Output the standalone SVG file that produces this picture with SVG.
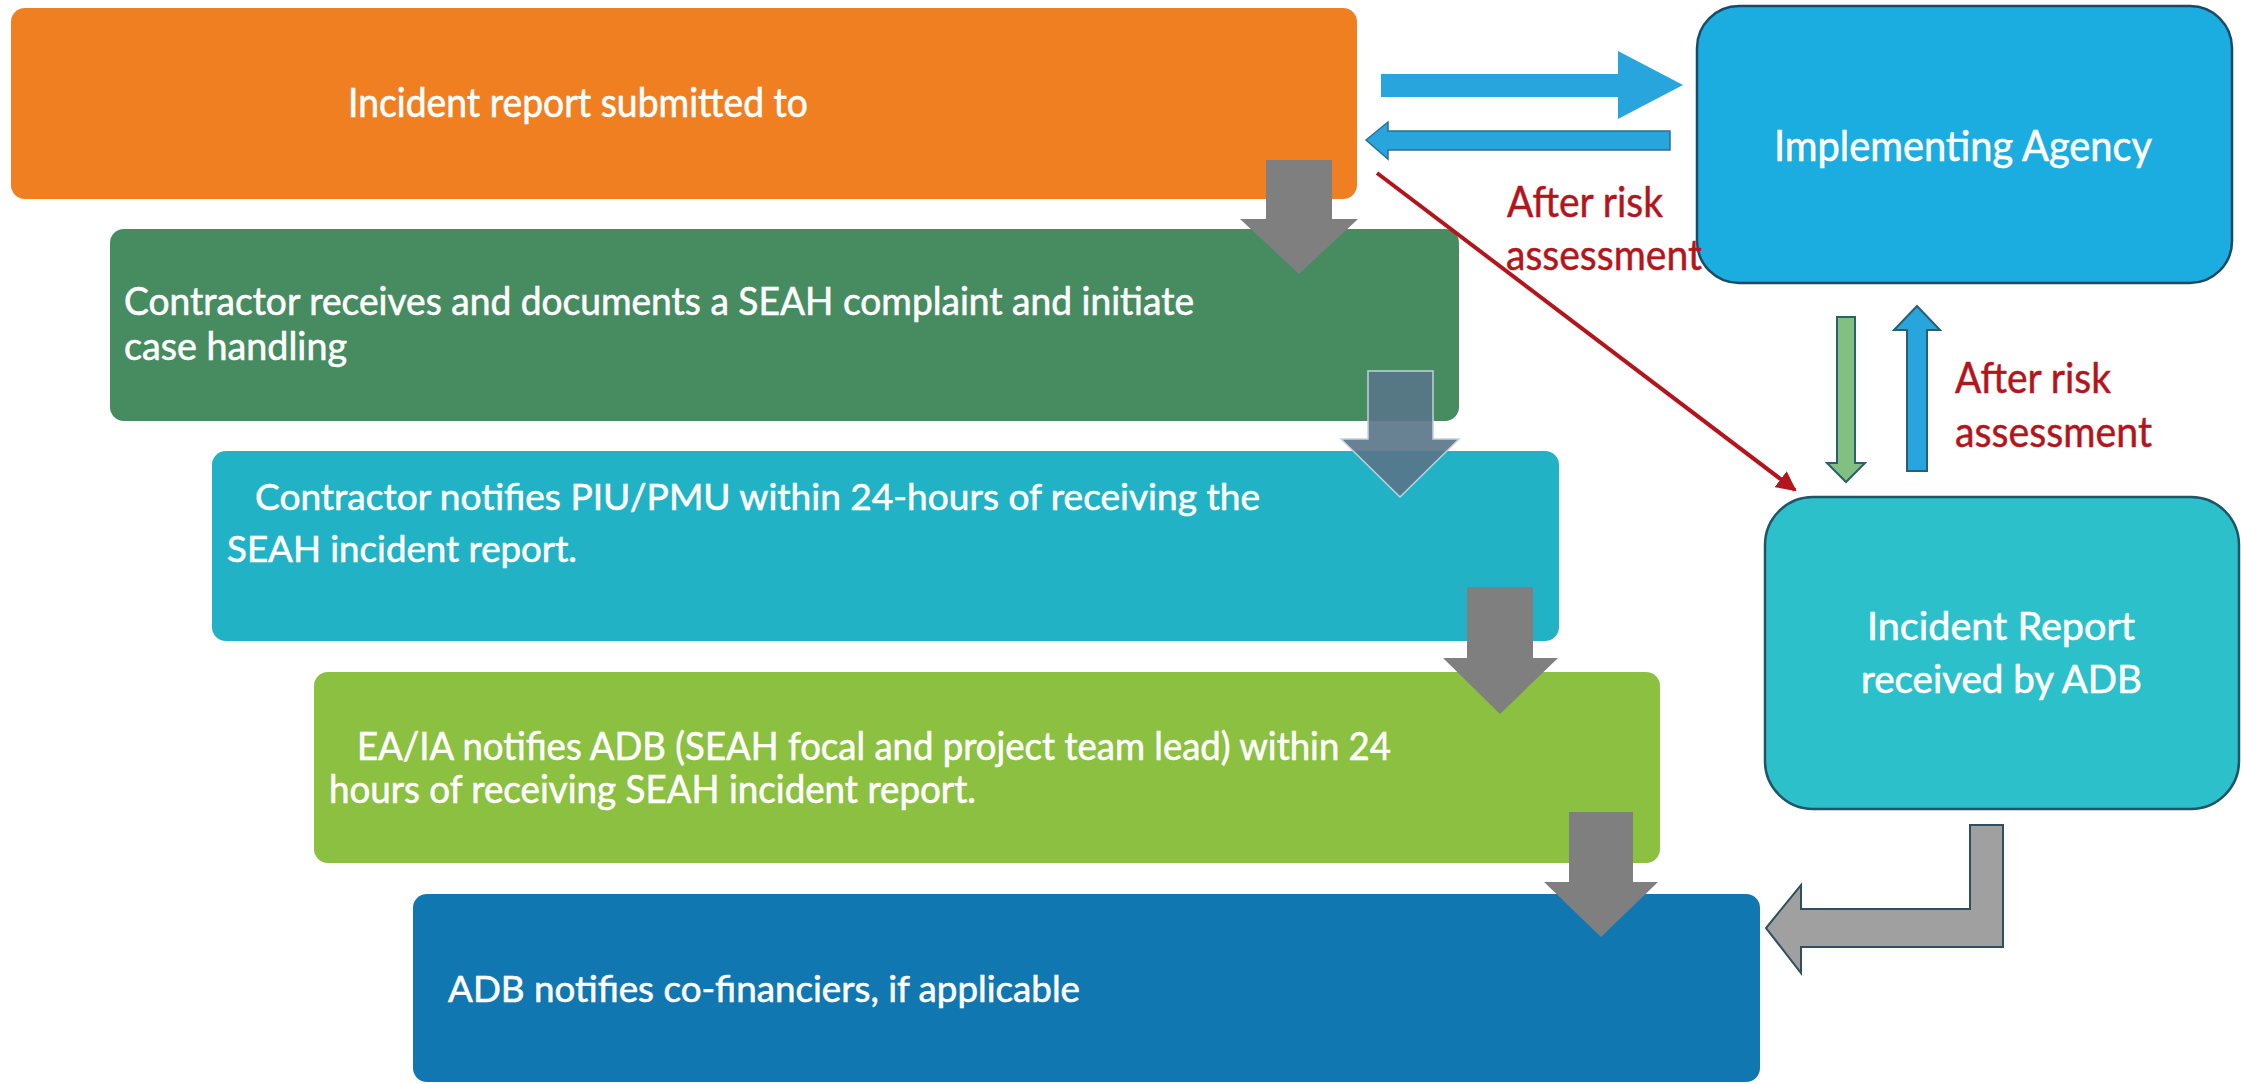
<svg xmlns="http://www.w3.org/2000/svg" width="2241" height="1084" viewBox="0 0 2241 1084">
  <style>
    .step { stroke: none; }
    .side { stroke-width: 2.5; }
    .lbl { font-family: Lato, "Open Sans", "Liberation Sans", sans-serif; fill: #ffffff; stroke: #ffffff; stroke-width: 0.6; }
    .note { font-family: Lato, "Open Sans", "Liberation Sans", sans-serif; fill: #b3151c; stroke: #b3151c; stroke-width: 0.5; }
    .down { fill: #7f7f7f; }
    .blue { fill: #29a5de; }
  </style>
  <defs>
    <marker id="redHead" viewBox="0 0 10 10" refX="9" refY="5" markerWidth="5" markerHeight="5" orient="auto" markerUnits="strokeWidth">
      <path d="M0,0 L10,5 L0,10 Z" fill="#b3151c"/>
    </marker>
  </defs>

  <rect width="2241" height="1084" fill="#ffffff"/>

  <!-- process steps -->
  <g id="step-submitted">
    <rect class="step" x="11" y="8" width="1346" height="191" rx="14" fill="#f07f22"/>
    <text class="lbl" x="348" y="117" font-size="40" textLength="460" lengthAdjust="spacingAndGlyphs">Incident report submitted to</text>
  </g>
  <g id="step-contractor-receives">
    <rect class="step" x="110" y="229" width="1349" height="192" rx="14" fill="#468c60"/>
    <text class="lbl" x="124" y="315" font-size="38" textLength="1070" lengthAdjust="spacingAndGlyphs">Contractor receives and documents a SEAH complaint and initiate</text>
    <text class="lbl" x="124" y="360" font-size="38" textLength="223" lengthAdjust="spacingAndGlyphs">case handling</text>
  </g>
  <g id="step-contractor-notifies">
    <rect class="step" x="212" y="451" width="1347" height="190" rx="14" fill="#22b2c6"/>
    <text class="lbl" x="255" y="510" font-size="37" textLength="1005" lengthAdjust="spacingAndGlyphs">Contractor notifies PIU/PMU within 24-hours of receiving  the</text>
    <text class="lbl" x="227" y="562" font-size="37" textLength="350" lengthAdjust="spacingAndGlyphs">SEAH incident report.</text>
  </g>
  <g id="step-eaia-notifies">
    <rect class="step" x="314" y="672" width="1346" height="191" rx="14" fill="#8bc040"/>
    <text class="lbl" x="357" y="760" font-size="38" textLength="1034" lengthAdjust="spacingAndGlyphs">EA/IA notifies ADB (SEAH focal and project team lead) within 24</text>
    <text class="lbl" x="329" y="803" font-size="38" textLength="647" lengthAdjust="spacingAndGlyphs">hours of receiving SEAH incident report.</text>
  </g>
  <g id="step-adb-notifies">
    <rect class="step" x="413" y="894" width="1347" height="188" rx="14" fill="#1177b1"/>
    <text class="lbl" x="448" y="1002" font-size="37" textLength="632" lengthAdjust="spacingAndGlyphs">ADB notifies co-financiers, if applicable</text>
  </g>

  <!-- side boxes -->
  <g id="implementing-agency">
    <rect class="side" x="1697" y="6" width="535" height="277" rx="42" fill="#1badE0" stroke="#1b4a66"/>
    <text class="lbl" x="1774" y="161" font-size="42" textLength="378" lengthAdjust="spacingAndGlyphs">Implementing Agency</text>
  </g>
  <g id="incident-report-adb">
    <rect class="side" x="1765" y="497" width="474" height="312" rx="48" fill="#2cc1ca" stroke="#1f5566"/>
    <text class="lbl" x="1867" y="640" font-size="38" textLength="268" lengthAdjust="spacingAndGlyphs">Incident Report</text>
    <text class="lbl" x="1861" y="693" font-size="38" textLength="281" lengthAdjust="spacingAndGlyphs">received by ADB</text>
  </g>

  <!-- connectors -->
  <g id="connectors">
    <polygon class="down" points="1266,160 1332,160 1332,219 1358,219 1299,274 1240,219 1266,219"/>
    <polygon points="1368,371 1433,371 1433,439 1459,439 1400,497 1341,439 1368,439" fill="#587488" fill-opacity="0.9" stroke="#c4d2da" stroke-width="1.5"/>
    <polygon class="down" points="1467,587 1533,587 1533,658 1558,658 1500,714 1443,658 1467,658"/>
    <polygon class="down" points="1569,812 1633,812 1633,882 1658,882 1601,937 1544,882 1569,882"/>

    <polygon class="blue" points="1381,74 1618,74 1618,51 1683,85 1618,119 1618,97 1381,97"/>
    <polygon class="blue" points="1366,140 1388,122 1388,131 1670,131 1670,150 1388,150 1388,159" stroke="#2a6f97" stroke-width="1.5"/>

    <polygon points="1837,317 1855,317 1855,463 1865,463 1846,482 1827,463 1837,463" fill="#82c082" stroke="#2b5e6e" stroke-width="2"/>
    <polygon class="blue" points="1917,306 1940,330 1927,330 1927,471 1907,471 1907,330 1894,330" stroke="#2b5e6e" stroke-width="2"/>

    <line x1="1377" y1="173" x2="1795" y2="490" stroke="#b3151c" stroke-width="4" marker-end="url(#redHead)"/>

    <polygon points="2003,825 2003,947 1801,947 1801,973 1766,928 1801,885 1801,909 1970,909 1970,825" fill="#a0a0a0" stroke="#2f4f5f" stroke-width="2"/>

    <text class="note" x="1507" y="217" font-size="42" textLength="156" lengthAdjust="spacingAndGlyphs">After risk</text>
    <text class="note" x="1506" y="270" font-size="42" textLength="196" lengthAdjust="spacingAndGlyphs">assessment</text>
    <text class="note" x="1955" y="393" font-size="42" textLength="156" lengthAdjust="spacingAndGlyphs">After risk</text>
    <text class="note" x="1955" y="447" font-size="42" textLength="197" lengthAdjust="spacingAndGlyphs">assessment</text>
  </g>
</svg>
